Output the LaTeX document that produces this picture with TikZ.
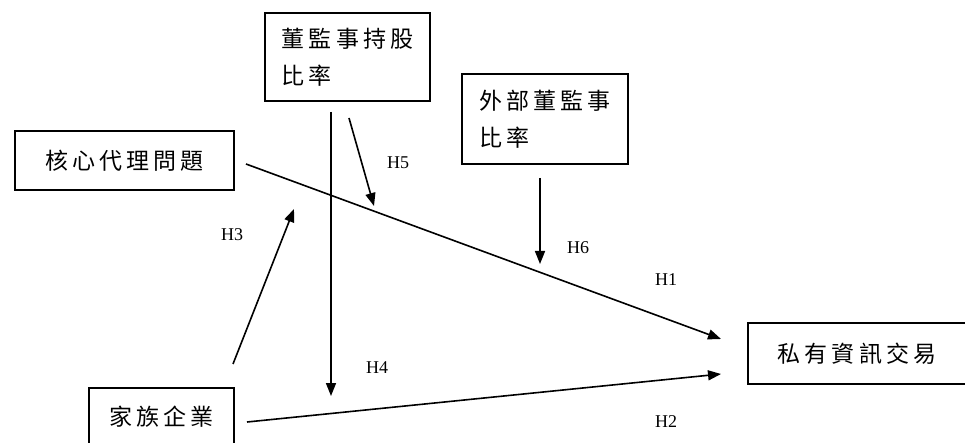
\documentclass[tikz,border=0pt]{standalone}
\usepackage{fontspec}
\setmainfont{Liberation Serif}
\newfontfamily\cjk[LetterSpace=18]{Noto Sans CJK TC}
\usetikzlibrary{arrows.meta}
\tikzset{
  box/.style={draw, line width=2.8pt, inner sep=0pt, font=\cjk\fontsize{23}{37}\selectfont, align=left},
  conn/.style={line width=1.6pt, -{Triangle[length=13pt,width=10pt]}},
  hlab/.style={font=\fontsize{18}{18}\selectfont, inner sep=0pt}
}
\begin{document}
\begin{tikzpicture}[x=1pt,y=-1pt]
\useasboundingbox (0,0) rectangle (965,443);
\clip (0,0) rectangle (965,443);
% boxes
\node[box, minimum width=165pt, minimum height=88pt] (own) at (347.5,57) {董監事持股\\比率};
\node[box, minimum width=166pt, minimum height=90pt] (out) at (545,119) {外部董監事\\比率};
\node[box, minimum width=219pt, minimum height=59pt] (core) at (124.5,160.5) {核心代理問題};
\node[box, minimum width=145pt, minimum height=58pt] (fam) at (161.5,417) {家族企業};
\node[box, minimum width=218pt, minimum height=61pt] (pit) at (857,353.5) {私有資訊交易};
% connector end points
\coordinate (h1s) at (246,164);
\coordinate (h1e) at (721,339);
\coordinate (h2s) at (247,422);
\coordinate (h2e) at (721,374);
\coordinate (h3s) at (233,364);
\coordinate (h3e) at (294,209);
\coordinate (h4s) at (331,112);
\coordinate (h4e) at (331,396);
\coordinate (h5s) at (349,118);
\coordinate (h5e) at (374,206);
\coordinate (h6s) at (540,178);
\coordinate (h6e) at (540,264);
% connectors
\draw[conn] (h1s) -- (h1e);
\draw[conn] (h2s) -- (h2e);
\draw[conn] (h3s) -- (h3e);
\draw[conn] (h4s) -- (h4e);
\draw[conn] (h5s) -- (h5e);
\draw[conn] (h6s) -- (h6e);
% labels
\node[hlab] (l5) at (398,163) {H5};
\node[hlab] (l3) at (232,235) {H3};
\node[hlab] (l4) at (377,368) {H4};
\node[hlab] (l6) at (578,248) {H6};
\node[hlab] (l1) at (666,280) {H1};
\node[hlab] (l2) at (666,422) {H2};
\end{tikzpicture}
\end{document}
